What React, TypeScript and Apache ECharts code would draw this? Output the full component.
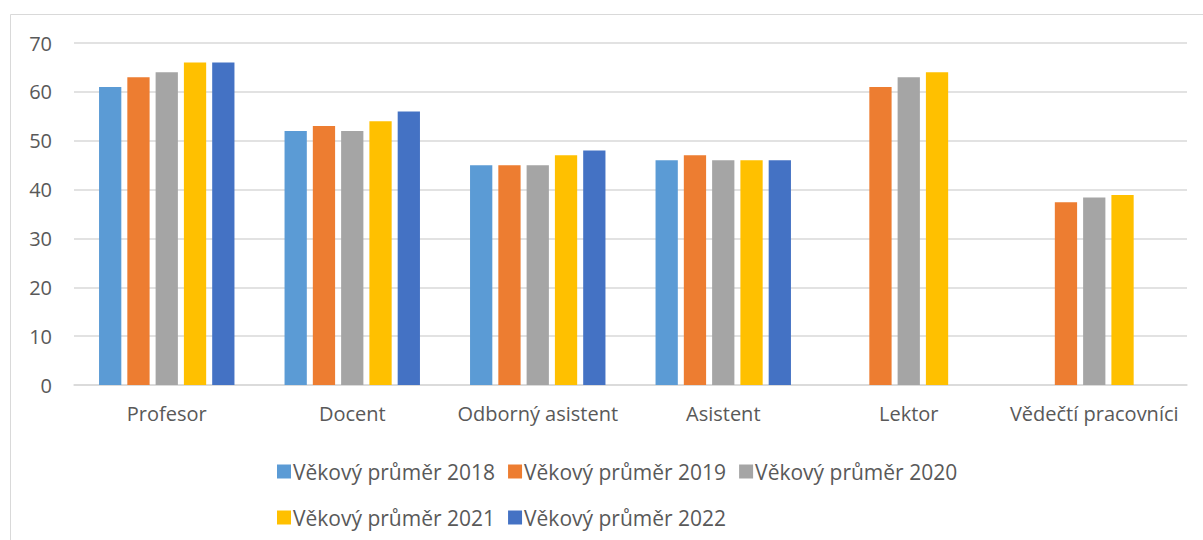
import React, { useEffect, useRef } from "react";
import * as echarts from "echarts";

const categories = ["Profesor", "Docent", "Odborný asistent", "Asistent", "Lektor", "Vědečtí pracovníci"];
const seriesNames = ["Věkový průměr 2018", "Věkový průměr 2019", "Věkový průměr 2020", "Věkový průměr 2021", "Věkový průměr 2022"];
const colors = ["#5b9bd5", "#ed7d31", "#a5a5a5", "#ffc000", "#4472c4"];
const v2018 = [61, 52, 45, 46, null, null];
const v2019 = [63, 53, 45, 47, 61, 37.4];
const v2020 = [64, 52, 45, 46, 63, 38.4];
const v2021 = [66, 54, 47, 46, 64, 38.9];
const v2022 = [66, 56, 48, 46, null, null];
const seriesValues = [v2018, v2019, v2020, v2021, v2022];
const yTicks = { min: 0, max: 70, interval: 10 };

const FONT = "'Open Sans', 'Noto Sans', sans-serif";

export default function App() {
  const ref = useRef<HTMLDivElement>(null);
  useEffect(() => {
    document.body.style.margin = "0";
    const chart = echarts.init(ref.current!, undefined, { renderer: "svg" });
    const legendCommon = {
      left: 272,
      itemWidth: 14,
      itemHeight: 14,
      itemGap: 13,
      icon: "rect",
      textStyle: { color: "#595959", fontSize: 21, fontFamily: FONT, padding: [0, 0, 0, -3] },
    };
    chart.setOption({
      animation: false,
      graphic: [
        {
          type: "rect",
          shape: { x: 10.5, y: 14.5, width: 1200, height: 540 },
          style: { fill: "none", stroke: "#d9d9d9", lineWidth: 1 },
          silent: true,
        },
      ],
      grid: { left: 74, right: 16, top: 43, bottom: 155, containLabel: false },
      legend: [
        { ...legendCommon, top: 456, data: seriesNames.slice(0, 3) },
        { ...legendCommon, top: 502, data: seriesNames.slice(3) },
      ],
      xAxis: {
        type: "category",
        data: categories,
        axisLine: { show: true, lineStyle: { color: "#d9d9d9", width: 1.5 } },
        axisTick: { show: false },
        axisLabel: { color: "#595959", fontSize: 20, fontFamily: FONT, margin: 18, interval: 0 },
      },
      yAxis: {
        type: "value",
        min: yTicks.min,
        max: yTicks.max,
        interval: yTicks.interval,
        axisLine: { show: false },
        axisTick: { show: false },
        axisLabel: { color: "#595959", fontSize: 20, fontFamily: FONT, margin: 22 },
        splitLine: { lineStyle: { color: "#d9d9d9", width: 1.5 } },
      },
      series: seriesNames.map((name, i) => ({
        name,
        type: "bar",
        data: seriesValues[i],
        itemStyle: { color: colors[i] },
        barGap: "27%",
        barCategoryGap: "27%",
      })),
    });
    return () => chart.dispose();
  }, []);
  return <div ref={ref} style={{ width: 1203, height: 540, position: "absolute", left: 0, top: 0 }} />;
}
